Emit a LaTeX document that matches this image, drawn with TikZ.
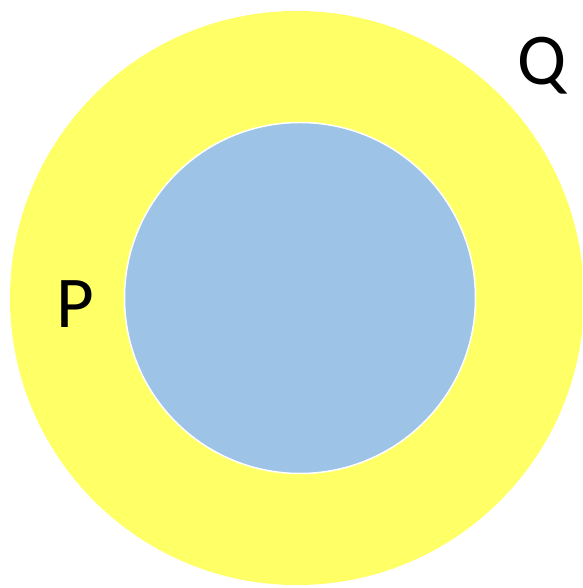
\documentclass[tikz,border=0pt]{standalone}
\usepackage{fontspec}
\setmainfont{Carlito}
\definecolor{outeryellow}{HTML}{FFFF66}
\definecolor{innerblue}{HTML}{9DC3E6}
\tikzset{
  setlabel/.style={font=\fontsize{73}{80}\selectfont, text=black, inner sep=0pt, anchor=base},
}
\begin{document}
\begin{tikzpicture}[x=1pt,y=1pt]
\useasboundingbox (0,0) rectangle (582,588);
\clip (0,0) rectangle (582,588);
\node[circle, fill=outeryellow, minimum size=574pt, inner sep=0pt] (Q) at (297,290) {};
\node[circle, fill=innerblue, draw=white, line width=1.5pt, minimum size=351pt, inner sep=0pt] (P) at (300,290) {};
\node[setlabel] (plabel) at (75.5,260) {P};
\node[setlabel] (qlabel) at (542,503) {Q};
\end{tikzpicture}
\end{document}
